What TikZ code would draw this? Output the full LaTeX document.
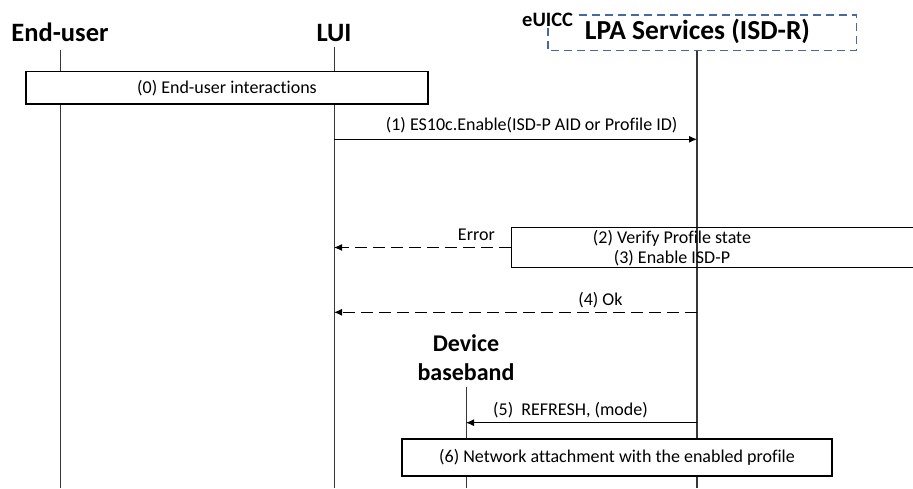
\documentclass[tikz,border=0pt]{standalone}
\usepackage{fontspec}
\setmainfont{Carlito}[Ligatures=NoCommon]
\usetikzlibrary{arrows.meta}
\definecolor{eblue}{RGB}{70,105,160}
\definecolor{lifegray}{RGB}{55,55,55}
\begin{document}
\begin{tikzpicture}[x=1pt,y=-1pt,
  head/.style={font=\bfseries\fontsize{26.5}{28}\selectfont, inner sep=0pt, anchor=base},
  lbl/.style={font=\fontsize{18}{20}\selectfont, inner sep=0pt, anchor=base},
  life/.style={draw=lifegray, line width=0.9pt},
  msg/.style={line width=1pt, -{Latex[length=8pt,width=7pt]}},
  ret/.style={msg, dash pattern=on 12pt off 6pt},
  actbox/.style={draw, line width=1.2pt, fill=white, inner sep=0pt, font=\fontsize{18}{20}\selectfont},
  openbox/.style={draw, line width=1.2pt, inner sep=0pt}]
\useasboundingbox (0,0) rectangle (913,488);
\clip (0,0) rectangle (913,488);

% headings
\node[head] (heu) at (60,41.7) {End-user};
\node[head] (hlui) at (334,41.7) {LUI};
\node[head, font=\bfseries\fontsize{27.5}{30}\selectfont] (hlpa) at (697.5,39.3) {LPA Services (ISD-R)};
\node[head, font=\bfseries\fontsize{24}{28}\selectfont] (hdb1) at (466,351.7) {Device};
\node[head, font=\bfseries\fontsize{24}{28}\selectfont] (hdb2) at (466,380) {baseband};

% eUICC dashed box
\coordinate (euiccA) at (548,15);
\coordinate (euiccB) at (856.7,50.7);
\draw[eblue, line width=1.2pt, dash pattern=on 8pt off 5pt] (euiccA) rectangle (euiccB);
\node[font=\bfseries\fontsize{20.5}{22}\selectfont, fill=white, inner xsep=1pt, inner ysep=0pt, anchor=base west] (euicc) at (521,26.7) {eUICC};

% lifelines
\coordinate (eutop) at (60,50);   \coordinate (eubot) at (60,488);
\coordinate (luitop) at (334,47); \coordinate (luibot) at (334,488);
\coordinate (lpatop) at (697,50.7); \coordinate (lpabot) at (697,488);
\coordinate (dbtop) at (466,386.7); \coordinate (dbbot) at (466,488);
\draw[life] (eutop) -- (eubot);
\draw[life] (luitop) -- (luibot);
\draw[life, line width=1.1pt] (lpatop) -- (lpabot);
\draw[life] (dbtop) -- (dbbot);

% (0)
\node[actbox, minimum width=402pt, minimum height=32.3pt] (b0) at (227,87.85) {(0) End-user interactions};

% (1)
\coordinate (lui1) at (334,139.3);
\coordinate (lpa1) at (697,139.3);
\draw[msg] (lui1) -- (lpa1);
\node[lbl] (l1) at (531.7,130) {(1) ES10c.Enable(ISD-P AID or Profile ID)};

% (2)(3)
\node[openbox, minimum width=410pt, minimum height=40.4pt] (b23) at (716.7,247.5) {};
\node[lbl] (l2) at (672,243.3) {(2) Verify Profile state};
\node[lbl] (l3) at (672,263) {(3) Enable ISD-P};
\coordinate (luiE) at (334,247.5);
\draw[ret] (b23.west) -- (luiE);
\node[lbl, anchor=base east] (lerr) at (495,240.7) {Error};

% (4)
\coordinate (lpa4) at (697,312.3);
\coordinate (lui4) at (334,312.3);
\draw[ret] (lpa4) -- (lui4);
\node[lbl, anchor=base east] (l4) at (622.7,305) {(4) Ok};

% (5)
\coordinate (lpa5) at (697,422.7);
\coordinate (db5) at (466,422.7);
\draw[msg] (lpa5) -- (db5);
\node[lbl] (l5) at (570.5,415) {(5)\ \ REFRESH, (mode)};

% (6)
\node[actbox, minimum width=430pt, minimum height=37pt] (b6) at (617,457.5) {(6) Network attachment with the enabled profile};
\end{tikzpicture}
\end{document}
